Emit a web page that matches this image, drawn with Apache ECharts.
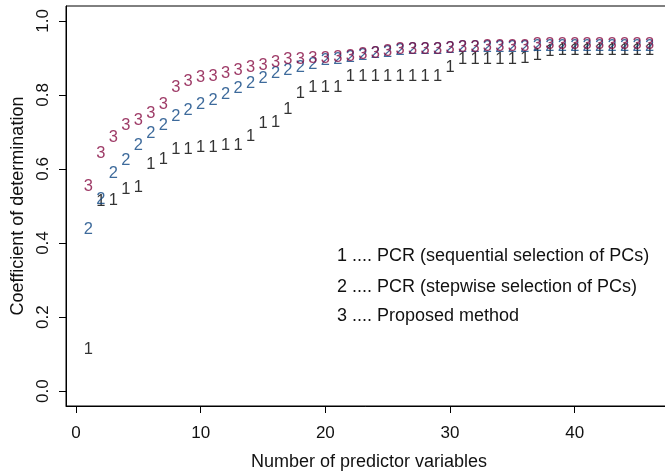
<!DOCTYPE html>
<html>
<head>
<meta charset="utf-8">
<script src="https://cdn.jsdelivr.net/npm/echarts@6/dist/echarts.min.js"></script>
<style>
html,body{margin:0;padding:0;background:#fff;}
#chart{width:665px;height:475px;}
</style>
</head>
<body>
<div id="chart"></div>
<script>
// Number of predictor variables
var xValues = [1,2,3,4,5,6,7,8,9,10,11,12,13,14,15,16,17,18,19,20,21,22,23,24,25,26,27,28,29,30,31,32,33,34,35,36,37,38,39,40,41,42,43,44,45,46];
// 1 .... PCR (sequential selection of PCs)
var pcrSequential = [0.112,0.512,0.514,0.546,0.551,0.612,0.627,0.652,0.652,0.657,0.659,0.663,0.663,0.688,0.724,0.726,0.762,0.805,0.821,0.821,0.821,0.850,0.850,0.850,0.850,0.850,0.850,0.850,0.850,0.875,0.896,0.896,0.896,0.897,0.897,0.899,0.906,0.917,0.920,0.920,0.920,0.920,0.920,0.920,0.920,0.920];
// 2 .... PCR (stepwise selection of PCs)
var pcrStepwise = [0.438,0.517,0.589,0.624,0.663,0.695,0.717,0.742,0.759,0.773,0.786,0.800,0.818,0.830,0.845,0.857,0.866,0.875,0.882,0.893,0.897,0.902,0.906,0.911,0.915,0.920,0.922,0.923,0.924,0.925,0.927,0.928,0.929,0.929,0.929,0.929,0.931,0.931,0.931,0.931,0.931,0.931,0.931,0.931,0.931,0.931];
// 3 .... Proposed method
var proposed = [0.552,0.643,0.686,0.717,0.731,0.751,0.773,0.821,0.836,0.848,0.850,0.859,0.866,0.873,0.879,0.888,0.895,0.895,0.899,0.899,0.902,0.904,0.908,0.913,0.917,0.922,0.922,0.924,0.924,0.926,0.929,0.929,0.931,0.932,0.932,0.932,0.935,0.935,0.935,0.935,0.935,0.935,0.935,0.935,0.935,0.935];
var xTicks = [0,10,20,30,40];
var yTicks = [0,0.2,0.4,0.6,0.8,1.0];
var legendLines = ['1 .... PCR (sequential selection of PCs)','2 .... PCR (stepwise selection of PCs)','3 .... Proposed method'];
var markers = ['1','2','3'];
var seriesData = [pcrSequential, pcrStepwise, proposed];
var colors = ['#000000','#0c4582','#860a41'];
var xRange = [-0.8, 47.8];
var yRange = [-0.04, 1.04];

var FONT = '"Liberation Sans", Arial, Helvetica, sans-serif';
var chart = echarts.init(document.getElementById('chart'), null, {renderer:'canvas'});

function pairs(ys){ return xValues.map(function(x,i){ return [x, ys[i]]; }); }

var series = seriesData.map(function(ys, k){
  return {
    type:'scatter',
    data: pairs(ys),
    symbol:'circle',
    symbolSize:1,
    itemStyle:{color:'transparent'},
    label:{show:true, position:'inside', formatter: markers[k], color: colors[k], fontFamily: FONT, fontSize:16.5},
    emphasis:{disabled:true},
    silent:true,
    z: 2+k
  };
});

var frameLine = {color:'#000', width:1};

chart.setOption({
  animation:false,
  backgroundColor:'#fff',
  grid:{left:66, top:6, width:606, height:400, show:true, borderColor:'#000', borderWidth:1, backgroundColor:'rgba(0,0,0,0)', containLabel:false, outerBoundsMode:'none'},
  xAxis:{
    type:'value', min:xRange[0], max:xRange[1], position:'bottom',
    name:'Number of predictor variables', nameLocation:'middle', nameGap:47,
    nameTextStyle:{fontFamily:FONT, fontSize:18, color:'#111'},
    axisLine:{show:true, onZero:false, lineStyle:frameLine},
    splitLine:{show:false},
    axisTick:{show:true, inside:false, length:7, lineStyle:{color:'#000'}, customValues:xTicks},
    axisLabel:{fontFamily:FONT, fontSize:17, color:'#111', margin:19, customValues:xTicks, formatter:function(v){return String(v);}}
  },
  yAxis:{
    type:'value', min:yRange[0], max:yRange[1], position:'left',
    name:'Coefficient of determination', nameLocation:'middle', nameGap:39,
    nameTextStyle:{fontFamily:FONT, fontSize:18, color:'#111'},
    axisLine:{show:true, onZero:false, lineStyle:frameLine},
    splitLine:{show:false},
    axisTick:{show:true, inside:false, length:7, lineStyle:{color:'#000'}, customValues:yTicks},
    axisLabel:{fontFamily:FONT, fontSize:17, color:'#111', rotate:90, margin:14, customValues:yTicks, formatter:function(v){return v.toFixed(1);}}
  },
  graphic: legendLines.map(function(t, i){
    return {type:'text', left:337, top:[247.5,278,307][i], style:{text:t, font:'18px ' + FONT, fill:'#111'}, silent:true};
  }),
  series: series
});
</script>
</body>
</html>
